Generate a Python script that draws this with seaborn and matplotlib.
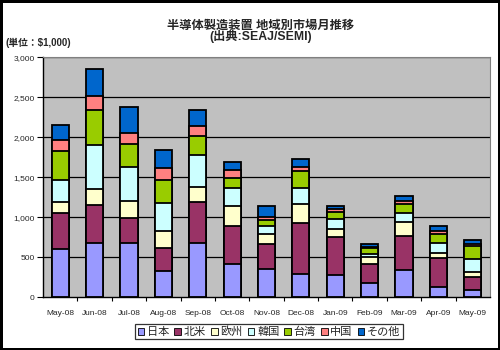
import numpy as np
import pandas as pd
import seaborn as sns
import matplotlib
matplotlib.use("Agg")
import matplotlib.pyplot as plt
from matplotlib.patches import Patch

months = ["May-08", "Jun-08", "Jul-08", "Aug-08", "Sep-08", "Oct-08", "Nov-08",
          "Dec-08", "Jan-09", "Feb-09", "Mar-09", "Apr-09", "May-09"]

# 単位: $1,000
japan = [604, 671, 671, 321, 671, 417, 350, 292, 283, 171, 338, 121, 88]
north_america = [442, 483, 321, 291, 512, 470, 317, 638, 471, 241, 425, 362, 166]
europe = [141, 196, 204, 217, 196, 246, 117, 233, 100, 84, 175, 71, 59]
korea = [271, 550, 433, 346, 400, 225, 104, 196, 125, 41, 116, 117, 158]
taiwan = [363, 442, 279, 292, 233, 134, 75, 212, 88, 75, 109, 117, 167]
china = [137, 175, 138, 150, 125, 91, 42, 58, 33, 17, 41, 33, 20]
others = [196, 333, 329, 220, 200, 105, 138, 96, 33, 38, 54, 71, 59]

series_names = ["日本", "北米", "欧州", "韓国", "台湾", "中国", "その他"]
series_values = [japan, north_america, europe, korea, taiwan, china, others]
series_colors = ["#9999FF", "#993366", "#FFFFCC", "#CCFFFF", "#99CC00", "#FF8080", "#0066CC"]

yticks = [0, 500, 1000, 1500, 2000, 2500, 3000]

sns.set_theme(style="white")
plt.rcParams["font.family"] = ["Liberation Sans", "Noto Sans CJK JP", "DejaVu Sans"]
plt.rcParams["figure.facecolor"] = "white"
plt.rcParams["savefig.facecolor"] = "white"

df = pd.DataFrame({"month": months})
cum = np.zeros(len(months))
for name, vals in zip(series_names, series_values):
    cum = cum + np.array(vals)
    df[name] = cum

fig = plt.figure(figsize=(5, 3.5), dpi=100, facecolor="white",
                 edgecolor="black", linewidth=2.4)
ax = fig.add_axes([0.086, 0.151, 0.894, 0.686])
ax.set_facecolor("#C0C0C0")

for y in yticks[1:]:
    ax.axhline(y, color="black", lw=0.9, zorder=0.5)

# stacked bars: draw the cumulative totals from the top layer down
for name, color in reversed(list(zip(series_names, series_colors))):
    sns.barplot(data=df, x="month", y=name, color=color, width=0.5,
                edgecolor="black", linewidth=1.3, saturation=1, ax=ax, zorder=2)

ax.set_xlim(-0.5, len(months) - 0.5)
ax.set_ylim(0, 3000)
ax.set_yticks(yticks)
ax.set_yticklabels([f"{v:,}" for v in yticks], fontsize=6)
ax.set_xticks(range(len(months)))
ax.set_xticklabels(months, fontsize=6)
ax.set_xticks(np.arange(0.5, len(months) - 0.5, 1), minor=True)
ax.tick_params(axis="x", which="major", length=0, pad=9)
ax.tick_params(axis="x", which="minor", length=3, width=0.8, color="black", direction="out", bottom=True)
ax.tick_params(axis="y", which="major", length=4, width=0.8, color="black", direction="out", left=True, pad=2)
ax.set_xlabel("")
ax.set_ylabel("")

for side in ["left", "bottom"]:
    ax.spines[side].set_color("black")
    ax.spines[side].set_linewidth(1.0)
for side in ["top", "right"]:
    ax.spines[side].set_color("#808080")
    ax.spines[side].set_linewidth(0.8)

fig.text(0.522, 0.927, "半導体製造装置 地域別市場月推移", ha="center", va="center",
         fontsize=8.8, fontweight="bold")
fig.text(0.522, 0.895, "(出典:SEAJ/SEMI)", ha="center", va="center",
         fontsize=8.8, fontweight="bold")
fig.text(0.01, 0.878, "(単位：$1,000)", ha="left", va="center", fontsize=7, fontweight="bold")

handles = [Patch(facecolor=c, edgecolor="black", linewidth=0.6, label=n)
           for n, c in zip(series_names, series_colors)]
leg = fig.legend(handles=handles, loc="center", bbox_to_anchor=(0.538, 0.052), ncol=7,
                 fontsize=8, frameon=True, fancybox=False, handlelength=0.6, handleheight=0.6,
                 handletextpad=0.25, columnspacing=0.45, borderpad=0.2, borderaxespad=0)
leg.get_frame().set_edgecolor("black")
leg.get_frame().set_linewidth(0.9)
leg.get_frame().set_facecolor("white")

fig.savefig("out.png", dpi=100, facecolor="white", edgecolor="black")
